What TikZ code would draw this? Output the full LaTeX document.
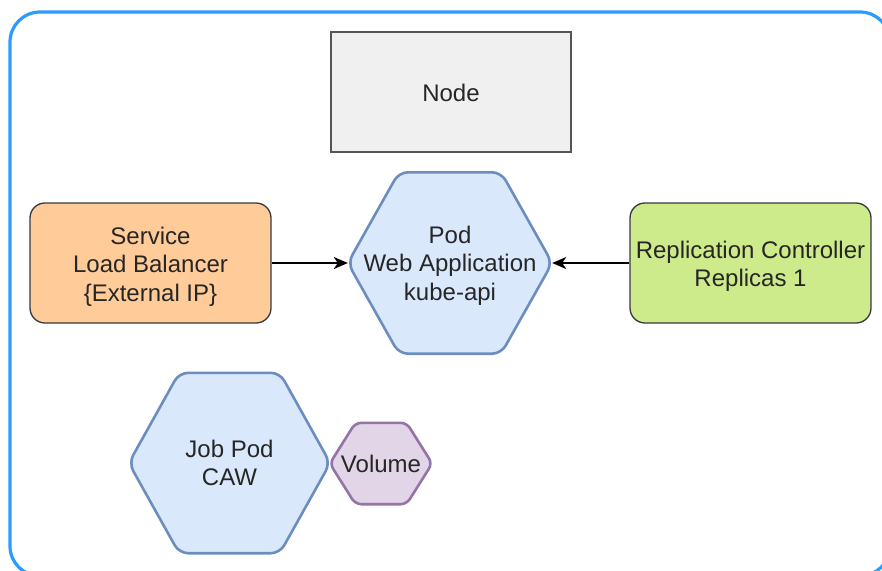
\documentclass[tikz,border=0pt]{standalone}
\usepackage{fontspec}
\setmainfont{Liberation Sans}
\usetikzlibrary{arrows.meta,calc,backgrounds}

\definecolor{frameblue}{HTML}{2A9BFF}
\definecolor{nodegray}{HTML}{F0F0F0}
\definecolor{edgegray}{HTML}{555555}
\definecolor{svcfill}{HTML}{FFCC99}
\definecolor{rcfill}{HTML}{CDEB8B}
\definecolor{boxline}{HTML}{36393D}
\definecolor{podfill}{HTML}{DAE8FC}
\definecolor{podline}{HTML}{6C8EBF}
\definecolor{volfill}{HTML}{E1D5E7}
\definecolor{volline}{HTML}{9673A6}
\definecolor{txt}{HTML}{262626}

\tikzset{
  lbl/.style={text=txt, font=\fontsize{24}{28.5}\selectfont, align=center, inner sep=0pt},
  boxbase/.style={lbl, draw=boxline, line width=1.3pt, rounded corners=15pt},
  hexarea/.style={lbl, minimum width=#1, inner sep=0pt},
  podhex/.style={fill=podfill, draw=podline, line width=2.6pt, rounded corners=9pt},
  volhex/.style={fill=volfill, draw=volline, line width=2.6pt, rounded corners=6pt},
  link/.style={line width=1.8pt, -{Stealth[length=14pt,width=12pt,inset=4pt]}},
}

% centred lines, set a little lower than the node's own centre
\newcommand\lowlines[2]{%
  \raisebox{-#1}[\height][\depth]{\begin{tabular}{@{}c@{}}#2\end{tabular}}}

% hexagon drawn around the box of a named node
\newcommand\hexaround[2]{%
  \path[#2] (#1.north)
    -- ($(#1.north west)!0.75!(#1.north east)$)
    -- (#1.east)
    -- ($(#1.south west)!0.75!(#1.south east)$)
    -- ($(#1.south west)!0.25!(#1.south east)$)
    -- (#1.west)
    -- ($(#1.north west)!0.25!(#1.north east)$)
    -- cycle;}

\begin{document}
\begin{tikzpicture}[x=1pt,y=-1pt]
  \useasboundingbox (0,0) rectangle (882,570);
  \clip (0,0) rectangle (882,570);

  % outer frame
  \draw[frameblue, line width=3.2pt, rounded corners=30pt] (10,12) rectangle (890,576);

  % top box
  \node[lbl, draw=edgegray, fill=nodegray, line width=1.3pt,
        minimum width=240pt, minimum height=120pt] (node) at (451,92)
        {\lowlines{4pt}{Node}};

  % service and controller
  \node[boxbase, fill=svcfill, minimum width=241pt, minimum height=120pt]
    (svc) at (150.5,263) {\lowlines{4pt}{Service\\Load Balancer\\\{External IP\}}};
  \node[boxbase, fill=rcfill, minimum width=241pt, minimum height=120pt]
    (rc) at (750.5,263) {\lowlines{4pt}{Replication Controller\\Replicas 1}};

  % hexagonal pods
  \node[hexarea=204pt, minimum height=181pt] (pod) at (450,263)
    {\lowlines{3pt}{Pod\\Web Application\\kube-api}};
  \node[hexarea=201pt, minimum height=180pt] (job) at (229.5,463) {Job Pod\\CAW};
  \node[hexarea=102pt, minimum height=81pt] (vol) at (381,463.5) {Volume};

  \begin{pgfonlayer}{background}
    \hexaround{pod}{podhex}
    \hexaround{job}{podhex}
    \hexaround{vol}{volhex}
  \end{pgfonlayer}

  % connectors
  \draw[link] (svc.east) -- (pod.west);
  \draw[link] (rc.west) -- (pod.east);
\end{tikzpicture}
\end{document}
